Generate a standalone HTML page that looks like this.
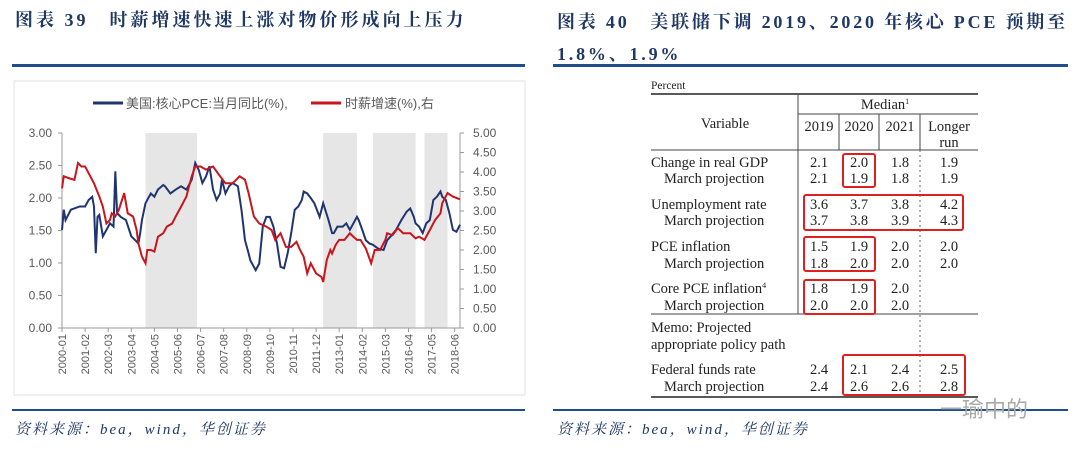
<!DOCTYPE html>
<html><head><meta charset="utf-8"><style>
body{margin:0;width:1080px;height:452px;background:#fff;position:relative;overflow:hidden;font-family:"Liberation Serif","Noto Serif CJK SC",serif}
.t{position:absolute;color:#1f3864;font-weight:bold;font-size:18px;white-space:nowrap;letter-spacing:3px}
.hl{position:absolute;height:3px;background:#1f4e8c}
.src{position:absolute;font-style:italic;color:#1f3864;font-size:15px;top:418px;letter-spacing:2px}
svg{position:absolute;left:0;top:0}
</style></head><body>
<div class="t" style="left:15px;top:6px">图表 39　时薪增速快速上涨对物价形成向上压力</div>
<div class="t" style="left:557px;top:6px;line-height:32px;letter-spacing:2.8px">图表 40　美联储下调 2019、2020 年核心 PCE 预期至<br>1.8%、1.9%</div>
<div class="hl" style="left:12px;top:64px;width:513px"></div>
<div class="hl" style="left:553px;top:64px;width:515px"></div>
<div class="hl" style="left:12px;top:409px;width:513px;height:2px"></div>
<div class="hl" style="left:553px;top:409px;width:515px;height:2px"></div>
<div class="src" style="left:15px">资料来源：bea，wind，华创证券</div>
<div class="src" style="left:557px">资料来源：bea，wind，华创证券</div>
<div style="position:absolute;left:940px;top:392px;font-size:22px;color:#aaa;font-family:'Liberation Sans','Noto Sans CJK SC',sans-serif">一瑜中的</div>

<svg id="chart" width="1080" height="452"></svg>

<svg width="1080" height="452" font-family="Liberation Serif,serif" font-size="14.5" fill="#222">
<text x="651" y="89" font-size="11.5">Percent</text>
<line x1="651" y1="94" x2="978" y2="94" stroke="#222" stroke-width="1.5"/>
<line x1="798" y1="94" x2="798" y2="314" stroke="#444"/>
<line x1="798" y1="114" x2="978" y2="114" stroke="#444"/>
<line x1="839" y1="114" x2="839" y2="150" stroke="#444"/>
<line x1="879" y1="114" x2="879" y2="150" stroke="#444"/>
<line x1="920" y1="114" x2="920" y2="150" stroke="#444"/>
<line x1="651" y1="150" x2="978" y2="150" stroke="#444"/>
<line x1="920" y1="150" x2="920" y2="395" stroke="#666" stroke-dasharray="2,3"/>
<line x1="651" y1="314" x2="978" y2="314" stroke="#444"/>
<line x1="651" y1="397" x2="978" y2="397" stroke="#222" stroke-width="1.5"/>
<text x="885" y="109" text-anchor="middle">Median<tspan font-size="8" dy="-5">1</tspan></text>
<text x="725" y="128" text-anchor="middle">Variable</text>
<g text-anchor="middle"><text x="819" y="131">2019</text><text x="859" y="131">2020</text><text x="900" y="131">2021</text><text x="949" y="131">Longer</text><text x="949" y="147">run</text></g>
<g>
<text x="651" y="167">Change in real GDP</text><text x="664" y="183">March projection</text>
<text x="651" y="209">Unemployment rate</text><text x="664" y="225">March projection</text>
<text x="651" y="251">PCE inflation</text><text x="664" y="268">March projection</text>
<text x="651" y="293">Core PCE inflation<tspan font-size="8" dy="-5">4</tspan></text><text x="664" y="310">March projection</text>
<text x="651" y="332">Memo: Projected</text><text x="651" y="349">appropriate policy path</text>
<text x="651" y="374">Federal funds rate</text><text x="664" y="391">March projection</text>
</g>
<g text-anchor="middle">
<text x="819" y="167">2.1</text><text x="859" y="167">2.0</text><text x="900" y="167">1.8</text><text x="949" y="167">1.9</text>
<text x="819" y="183">2.1</text><text x="859" y="183">1.9</text><text x="900" y="183">1.8</text><text x="949" y="183">1.9</text>
<text x="819" y="209">3.6</text><text x="859" y="209">3.7</text><text x="900" y="209">3.8</text><text x="949" y="209">4.2</text>
<text x="819" y="225">3.7</text><text x="859" y="225">3.8</text><text x="900" y="225">3.9</text><text x="949" y="225">4.3</text>
<text x="819" y="251">1.5</text><text x="859" y="251">1.9</text><text x="900" y="251">2.0</text><text x="949" y="251">2.0</text>
<text x="819" y="268">1.8</text><text x="859" y="268">2.0</text><text x="900" y="268">2.0</text><text x="949" y="268">2.0</text>
<text x="819" y="293">1.8</text><text x="859" y="293">1.9</text><text x="900" y="293">2.0</text>
<text x="819" y="310">2.0</text><text x="859" y="310">2.0</text><text x="900" y="310">2.0</text>
<text x="819" y="374">2.4</text><text x="859" y="374">2.1</text><text x="900" y="374">2.4</text><text x="949" y="374">2.5</text>
<text x="819" y="391">2.4</text><text x="859" y="391">2.6</text><text x="900" y="391">2.6</text><text x="949" y="391">2.8</text>
</g>
<g fill="none" stroke="#e02020" stroke-width="2">
<rect x="843" y="154" width="32" height="33" rx="2"/>
<rect x="804" y="195" width="159" height="35" rx="2"/>
<rect x="804" y="237" width="71" height="34" rx="2"/>
<rect x="804" y="280" width="71" height="34" rx="2"/>
<rect x="843" y="355" width="122" height="40" rx="2"/>
</g>
</svg>

<script>
const pceMonths=[0,1,2,5,10,13,15,17,18,19,20,21,23,25,27,29,30,31,33,36,39,42,43,44,45,47,50,52,54,57,58,61,64,67,70,73,75,77,79,81,83,85,87,89,90,92,94,96,99,101,103,105,106,109,111,113,115,117,119,121,123,125,127,129,131,133,135,136,138,140,142,145,147,150,152,153,155,158,160,162,164,166,167,169,171,173,175,178,181,183,185,188,191,194,196,198,199,201,203,205,207,209,211,213,214,216,218,220,222,224];
const pceValues=[1.51,1.82,1.66,1.82,1.87,1.87,1.97,2.02,1.87,1.15,1.71,1.74,1.41,1.51,1.61,1.56,2.41,1.77,1.71,1.66,1.41,1.33,1.30,1.46,1.66,1.92,2.07,2.02,2.13,2.20,2.18,2.07,2.13,2.18,2.13,2.28,2.54,2.43,2.23,2.33,2.49,2.13,1.97,2.07,2.28,2.07,2.18,2.23,2.18,1.82,1.35,1.15,1.04,0.89,0.99,1.56,1.71,1.71,1.56,1.30,0.94,0.92,1.15,1.46,1.82,1.87,1.97,2.10,2.07,2.00,1.92,1.71,1.92,1.66,1.46,1.46,1.56,1.56,1.61,1.51,1.61,1.71,1.66,1.51,1.35,1.30,1.28,1.22,1.20,1.35,1.41,1.51,1.66,1.79,1.84,1.71,1.61,1.56,1.46,1.61,1.66,1.97,2.02,2.10,2.02,1.97,1.77,1.51,1.48,1.59];
const wageMonths=[0,1,4,7,9,11,13,15,18,21,23,25,27,28,30,32,35,37,40,42,43,45,47,48,50,52,54,57,59,62,64,67,70,73,75,78,81,85,89,92,96,100,103,105,108,111,115,118,120,123,126,129,132,134,136,138,140,143,146,147,149,151,152,154,156,159,162,164,166,168,171,174,176,179,182,183,186,189,192,196,199,201,204,207,210,213,214,217,220,224];
const wageValues=[3.58,3.89,3.84,3.80,4.23,4.14,4.14,3.97,3.71,3.37,3.11,2.68,2.77,2.94,2.86,3.03,3.46,2.94,2.86,2.51,2.17,1.83,1.66,2.00,2.00,1.96,2.34,2.43,2.60,2.68,2.86,3.11,3.37,3.89,4.14,4.14,4.06,4.14,3.89,3.71,3.71,3.89,3.80,3.46,2.86,2.68,2.60,2.51,2.26,2.43,2.08,2.08,2.21,2.00,1.83,1.40,1.66,1.40,1.31,1.18,1.74,2.00,1.91,2.13,2.26,2.26,2.43,2.34,2.26,2.26,2.04,1.66,2.00,2.00,2.26,2.43,2.38,2.56,2.43,2.43,2.30,2.34,2.26,2.51,2.77,2.94,3.20,3.46,3.37,3.30];
const leftTicks=["0.00","0.50","1.00","1.50","2.00","2.50","3.00"];
const rightTicks=["0.00","0.50","1.00","1.50","2.00","2.50","3.00","3.50","4.00","4.50","5.00"];
const xLabels=["2000-01","2001-02","2002-03","2003-04","2004-05","2005-06","2006-07","2007-08","2008-09","2009-10","2010-11","2011-12","2013-01","2014-02","2015-03","2016-04","2017-05","2018-06"];
const shadeStarts=[47,147,175,204];
const shadeEnds=[76,166,199,217];

const NS="http://www.w3.org/2000/svg";
const svg=document.getElementById('chart');
const X0=62,X1=460,Y0=328,Y1=133,MMAX=224;
const xs=m=>X0+(X1-X0)*m/MMAX;
const yl=v=>Y0-(Y0-Y1)*v/3;
const yr=v=>Y0-(Y0-Y1)*v/5;
function mk(tag,attrs,parent){const e=document.createElementNS(NS,tag);for(const k in attrs)e.setAttribute(k,attrs[k]);(parent||svg).appendChild(e);return e;}

const box=mk('rect',{x:14,y:81,width:511,height:314,fill:'#fff',stroke:'#e2e2e2'});



shadeStarts.forEach((s,i)=>{
  const r=mk('rect',{x:xs(s),y:Y1,width:xs(shadeEnds[i])-xs(s),height:Y0-Y1,fill:'#e6e6e6'});
  
  
});

const font='Liberation Sans,DejaVu Sans,sans-serif';
leftTicks.forEach((t,i)=>{
  const y=yl(i*0.5);
  mk('line',{x1:X0-4,y1:y,x2:X0,y2:y,stroke:'#999'});
  const tx=mk('text',{x:X0-10,y:y+4,'text-anchor':'end','font-size':12,fill:'#595959','font-family':font});
  tx.textContent=t;
  
  
});
rightTicks.forEach((t,i)=>{
  const y=yr(i*0.5);
  mk('line',{x1:X1,y1:y,x2:X1+4,y2:y,stroke:'#999'});
  const tx=mk('text',{x:X1+13,y:y+4,'font-size':12,fill:'#595959','font-family':font});
  tx.textContent=t;
  
  
});
mk('line',{x1:X0,y1:Y1,x2:X0,y2:Y0,stroke:'#999'});
mk('line',{x1:X1,y1:Y1,x2:X1,y2:Y0,stroke:'#999'});
mk('line',{x1:X0,y1:Y0,x2:X1,y2:Y0,stroke:'#999'});
xLabels.forEach((t,i)=>{
  const x=xs(i*13);
  mk('line',{x1:x,y1:Y0,x2:x,y2:Y0+4,stroke:'#999'});
  const tx=mk('text',{x:0,y:0,'text-anchor':'end','font-size':11,fill:'#595959','font-family':font,transform:`translate(${x+4},${Y0+6}) rotate(-90)`});
  tx.textContent=t;
  
  
});

const pl=mk('polyline',{points:pceMonths.map((m,i)=>xs(m)+','+yl(pceValues[i])).join(' '),fill:'none',stroke:'#1f3471','stroke-width':2});


const wl=mk('polyline',{points:wageMonths.map((m,i)=>xs(m)+','+yr(wageValues[i])).join(' '),fill:'none',stroke:'#c8161d','stroke-width':2});



const lg1=mk('line',{x1:93,y1:103,x2:123,y2:103,stroke:'#1f3471','stroke-width':3});


const lt1=mk('text',{x:126,y:108,'font-size':13,fill:'#595959','font-family':'Liberation Sans,Noto Sans CJK SC,sans-serif'});
lt1.textContent='美国:核心PCE:当月同比(%),';


const lg2=mk('line',{x1:311,y1:103,x2:341,y2:103,stroke:'#c8161d','stroke-width':3});


const lt2=mk('text',{x:345,y:108,'font-size':13,fill:'#595959','font-family':'Liberation Sans,Noto Sans CJK SC,sans-serif'});
lt2.textContent='时薪增速(%),右';


</script>
</body></html>
